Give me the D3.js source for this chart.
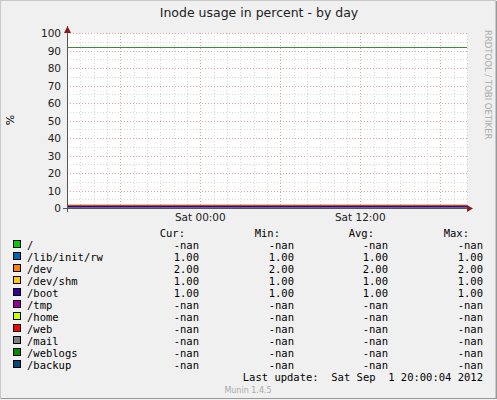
<!DOCTYPE html>
<html><head><meta charset="utf-8">
<script src="https://cdn.jsdelivr.net/npm/d3@7"></script>
<style>body{margin:0;background:#fff}</style>
</head><body><svg id="c" width="497" height="400" font-family="DejaVu Sans Mono"></svg>
<script>
// chart data
const labels = ["/", "/lib/init/rw", "/dev", "/dev/shm", "/boot", "/tmp", "/home", "/web", "/mail", "/weblogs", "/backup"];
const colors = ["#00cc00", "#0066b3", "#ff8000", "#ffcc00", "#330099", "#990099", "#ccff00", "#ff0000", "#808080", "#008f00", "#00487d"];
const cur = ["-nan", "1.00", "2.00", "1.00", "1.00", "-nan", "-nan", "-nan", "-nan", "-nan", "-nan"];
const mins = ["-nan", "1.00", "2.00", "1.00", "1.00", "-nan", "-nan", "-nan", "-nan", "-nan", "-nan"];
const avgs = ["-nan", "1.00", "2.00", "1.00", "1.00", "-nan", "-nan", "-nan", "-nan", "-nan", "-nan"];
const maxs = ["-nan", "1.00", "2.00", "1.00", "1.00", "-nan", "-nan", "-nan", "-nan", "-nan", "-nan"];
const values = [92, 1, 2, 1, 1, null, null, null, null, null, null];
const yTicks = [0, 10, 20, 30, 40, 50, 60, 70, 80, 90, 100];
const tStart = new Date(2012, 7, 31, 14), tEnd = new Date(2012, 8, 1, 20);
const xLabels = [new Date(2012, 8, 1, 0), new Date(2012, 8, 1, 12)];

const svg = d3.select("#c");
svg.append("rect").attr("width", 497).attr("height", 400).attr("fill", "#f0f0f0");
svg.append("rect").attr("x", 0.5).attr("y", 0.5).attr("width", 495).attr("height", 398)
  .attr("fill", "none").attr("stroke", "#c8c8c8");
svg.append("line").attr("x1", 1).attr("x2", 496).attr("y1", 398.5).attr("y2", 398.5).attr("stroke", "#999");
svg.append("line").attr("x1", 496.5).attr("x2", 496.5).attr("y1", 1).attr("y2", 399).attr("stroke", "#999");

const x = d3.scaleTime().domain([tStart, tEnd]).range([67, 467]);
const y = d3.scaleLinear().domain([0, 100]).range([208, 33]);

svg.append("rect").attr("x", 67).attr("y", 33).attr("width", 400).attr("height", 175).attr("fill", "#fff");

// grid
const g = svg.append("g");
d3.range(0, 101, 5).forEach(v => {
  const major = v % 10 === 0;
  g.append("line").attr("x1", 67).attr("x2", 467).attr("y1", Math.round(y(v)) + 0.5).attr("y2", Math.round(y(v)) + 0.5)
    .attr("stroke", major ? "#e0a0a0" : "#d8d8d8").attr("stroke-dasharray", "1,2");
});
d3.timeHour.range(tStart, d3.timeHour.offset(tEnd, 1)).forEach(t => {
  const major = t.getHours() % 6 === 0;
  const px = Math.round(x(t)) + 0.5;
  g.append("line").attr("x1", px).attr("x2", px).attr("y1", 33).attr("y2", 208)
    .attr("stroke", major ? "#e0a0a0" : "#d8d8d8").attr("stroke-dasharray", "1,2");
});

// series
values.forEach((v, i) => {
  if (v == null) return;
  svg.append("line").attr("x1", x(tStart)).attr("x2", x(tEnd))
    .attr("y1", Math.round(y(v)) + 0.5).attr("y2", Math.round(y(v)) + 0.5)
    .attr("stroke", i === 0 ? "#3a8a3a" : colors[i]).attr("stroke-width", i === 0 ? 1 : 2);
});

// axes
svg.append("line").attr("x1", 67.5).attr("x2", 67.5).attr("y1", 26).attr("y2", 212).attr("stroke", "#555");
svg.append("line").attr("x1", 63).attr("x2", 472).attr("y1", 208.5).attr("y2", 208.5).attr("stroke", "#555");
svg.append("path").attr("d", "M64,33L67.5,26L71,33Z").attr("fill", "#8b1a1a");
svg.append("path").attr("d", "M467,205L473,208.5L467,212Z").attr("fill", "#8b1a1a");

yTicks.forEach(v => svg.append("text").attr("x", 61).attr("y", y(v) + 4).attr("text-anchor", "end")
  .attr("font-size", 10.5).attr("font-family", "DejaVu Sans").attr("fill", "#222").text(v));
xLabels.forEach(t => svg.append("text").attr("x", x(t)).attr("y", 221).attr("text-anchor", "middle")
  .attr("font-size", 10.5).attr("font-family", "DejaVu Sans").attr("fill", "#222").text(d3.timeFormat("Sat %H:%M")(t)));

svg.append("text").attr("transform", "translate(14,120) rotate(-90)").attr("text-anchor", "middle")
  .attr("font-size", 11).attr("font-family", "DejaVu Sans").text("%");
svg.append("text").attr("x", 259).attr("y", 17).attr("text-anchor", "middle")
  .attr("font-size", 12.5).attr("font-family", "DejaVu Sans").attr("fill", "#222").text("Inode usage in percent - by day");
svg.append("text").attr("transform", "translate(485,30) rotate(90)")
  .attr("font-size", 8.5).attr("font-family", "DejaVu Sans").attr("fill", "#aaa").text("RRDTOOL / TOBI OETIKER");

// legend
const fs = 10.5;
[["Cur:", 185], ["Min:", 280], ["Avg:", 374], ["Max:", 469]].forEach(([t, px]) =>
  svg.append("text").attr("x", px).attr("y", 237).attr("text-anchor", "end").attr("font-size", fs).text(t));
labels.forEach((l, i) => {
  const ry = 249 + i * 12;
  svg.append("rect").attr("x", 13.5).attr("y", ry - 8.5).attr("width", 7).attr("height", 7)
    .attr("fill", colors[i]).attr("stroke", "#000");
  svg.append("text").attr("x", 27).attr("y", ry).attr("font-size", fs).text(l);
  [[cur, 199], [mins, 294], [avgs, 388], [maxs, 483]].forEach(([arr, px]) =>
    svg.append("text").attr("x", px).attr("y", ry).attr("text-anchor", "end").attr("font-size", fs).text(arr[i]));
});
svg.append("text").attr("x", 483).attr("y", 381).attr("text-anchor", "end").attr("font-size", fs)
  .attr("xml:space", "preserve").text("Last update:  Sat Sep  1 20:00:04 2012");
svg.append("text").attr("x", 248).attr("y", 393).attr("text-anchor", "middle").attr("font-size", 8)
  .attr("font-family", "DejaVu Sans").attr("fill", "#aaa").text("Munin 1.4.5");
</script></body></html>
